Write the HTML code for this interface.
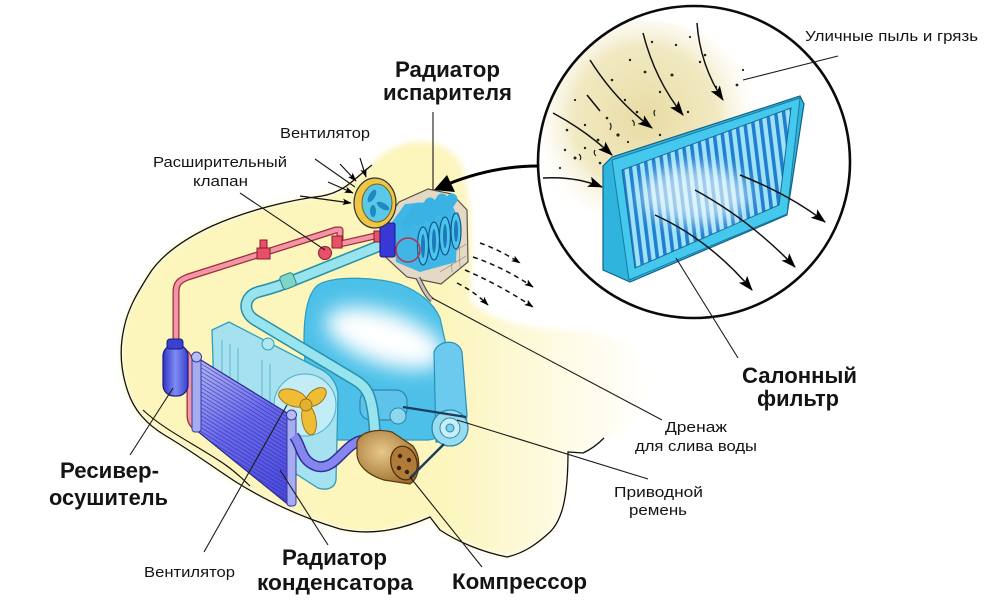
<!DOCTYPE html>
<html><head><meta charset="utf-8">
<style>
html,body{margin:0;padding:0;background:#fff;width:1000px;height:613px;overflow:hidden;}
svg{display:block;}
text{font-family:"Liberation Sans","DejaVu Sans",sans-serif;fill:#141414;}
.b{font-weight:bold;font-size:22px;}
.r{font-size:14.5px;}
</style></head><body>
<svg width="1000" height="613" viewBox="0 0 1000 613" xmlns="http://www.w3.org/2000/svg">
<defs>
 <linearGradient id="yel" gradientUnits="userSpaceOnUse" x1="440" y1="0" x2="650" y2="0">
  <stop offset="0" stop-color="#fcf5bc"/><stop offset="1" stop-color="#ffffff"/>
 </linearGradient>
 <filter id="bl3" x="-20%" y="-20%" width="140%" height="140%"><feGaussianBlur stdDeviation="3"/></filter>
 <filter id="bl8" x="-50%" y="-50%" width="200%" height="200%"><feGaussianBlur stdDeviation="8"/></filter>
 <filter id="bl10" x="-50%" y="-50%" width="200%" height="200%"><feGaussianBlur stdDeviation="10"/></filter>
 <radialGradient id="dust" gradientUnits="userSpaceOnUse" cx="645" cy="118" r="120">
  <stop offset="0" stop-color="#e8dca4"/><stop offset="0.6" stop-color="#f1e9c2"/><stop offset="1" stop-color="#ffffff" stop-opacity="0"/>
 </radialGradient>
 <linearGradient id="cond" gradientUnits="userSpaceOnUse" x1="200" y1="360" x2="292" y2="500">
  <stop offset="0" stop-color="#b4b8f2"/><stop offset="0.45" stop-color="#6a6aee"/><stop offset="1" stop-color="#4848dc"/>
 </linearGradient>
 <linearGradient id="recv" x1="0" y1="0" x2="1" y2="0">
  <stop offset="0" stop-color="#3036c8"/><stop offset="0.5" stop-color="#7f8cf2"/><stop offset="1" stop-color="#3a40d0"/>
 </linearGradient>
 <radialGradient id="comp" cx="0.4" cy="0.4" r="0.7">
  <stop offset="0" stop-color="#e6c88a"/><stop offset="1" stop-color="#9a6a2a"/>
 </radialGradient>
 <pattern id="fins" width="12" height="3.4" patternUnits="userSpaceOnUse" patternTransform="rotate(31.6)">
  <rect width="12" height="1" fill="#2b2ba0" opacity="0.55"/>
 </pattern>
 <pattern id="stripes" width="8" height="10" patternUnits="userSpaceOnUse" patternTransform="skewX(7)">
  <rect width="8" height="10" fill="#9fe2f8"/><rect width="3.6" height="10" fill="#1e7ed0"/>
 </pattern>
 <clipPath id="cc"><circle cx="694" cy="162" r="156"/></clipPath>
 <clipPath id="fin"><polygon points="622,170 791,108 779,205 635,268"/></clipPath>
 <clipPath id="engc"><path d="M318,285 C332,275 380,277 402,285 C420,292 434,304 440,318 L446,345 L448,420 C445,432 438,440 428,440 L330,440 C314,420 304,380 304,340 C304,312 308,293 318,285 Z"/></clipPath>
 <marker id="ah" viewBox="0 0 14 10" refX="13" refY="5" markerWidth="15" markerHeight="11" markerUnits="userSpaceOnUse" orient="auto">
  <path d="M0,0 L14,5 L0,10 L3,5 Z" fill="#000"/>
 </marker>
 <marker id="as" viewBox="0 0 14 10" refX="13" refY="5" markerWidth="9" markerHeight="7" markerUnits="userSpaceOnUse" orient="auto">
  <path d="M0,0 L14,5 L0,10 L3,5 Z" fill="#000"/>
 </marker>
</defs>

<!-- car body -->
<path d="M372,165 C355,178 345,192 322,196 C290,200 248,210 212,226 C182,240 160,256 148,276 C138,292 128,308 124,328 C119,350 121,372 128,392 C134,410 146,424 166,436 C190,450 210,465 236,482 C265,500 300,517 340,529 C375,537 408,527 430,517 L440,530 C458,542 482,552 507,557 C525,553 538,543 550,532 C562,520 568,498 568,452 L583,453 C592,449 598,444 604,438 C640,428 660,400 650,370 C640,340 600,332 560,330 C520,328 485,318 470,300 C474,250 472,200 462,165 C446,136 400,132 372,165 Z" fill="url(#yel)" filter="url(#bl3)"/>
<path d="M372,165 C355,178 345,192 322,196 C290,200 248,210 212,226 C182,240 160,256 148,276 C138,292 128,308 124,328 C119,350 121,372 128,392 C134,410 146,424 166,436 C190,450 210,465 236,482 C265,500 300,517 340,529 C375,537 408,527 430,517 L440,530 C458,542 482,552 507,557 C525,553 538,543 550,532 C562,520 568,498 568,452 L583,453 C592,449 598,444 604,438" fill="none" stroke="#111" stroke-width="1.3"/>
<path d="M143,410 C162,428 190,442 215,458 C230,467 240,476 250,486" fill="none" stroke="#111" stroke-width="1.1"/>

<!-- magnifier circle -->
<g clip-path="url(#cc)">
 <rect x="537" y="5" width="316" height="315" fill="#fff"/>
 <ellipse cx="640" cy="120" rx="120" ry="100" fill="url(#dust)"/>
</g>
<circle cx="694" cy="162" r="156" fill="none" stroke="#0a0a0a" stroke-width="2.6"/>
<g fill="#222">
 <circle cx="567" cy="130" r="1.3"/><circle cx="575" cy="158" r="1.5"/><circle cx="585" cy="148" r="1.2"/>
 <circle cx="598" cy="140" r="1.4"/><circle cx="607" cy="118" r="1.3"/><circle cx="618" cy="135" r="1.6"/>
 <circle cx="625" cy="100" r="1.2"/><circle cx="637" cy="112" r="1.3"/><circle cx="645" cy="72" r="1.4"/>
 <circle cx="660" cy="92" r="1.2"/><circle cx="672" cy="75" r="1.5"/><circle cx="676" cy="45" r="1.2"/>
 <circle cx="700" cy="62" r="1.2"/><circle cx="705" cy="55" r="1.3"/><circle cx="716" cy="87" r="1.2"/>
 <circle cx="737" cy="85" r="1.4"/><circle cx="743" cy="70" r="1.1"/><circle cx="630" cy="60" r="1.2"/>
 <circle cx="612" cy="80" r="1.3"/><circle cx="660" cy="135" r="1.2"/><circle cx="640" cy="150" r="1.3"/>
 <circle cx="575" cy="100" r="1.1"/><circle cx="565" cy="150" r="1.2"/><circle cx="690" cy="37" r="1.1"/>
 <circle cx="652" cy="42" r="1.2"/><circle cx="600" cy="163" r="1.3"/><circle cx="560" cy="168" r="1.1"/>
 <circle cx="585" cy="125" r="1.2"/><circle cx="628" cy="142" r="1.1"/><circle cx="688" cy="112" r="1.2"/>
</g>
<g fill="none" stroke="#222" stroke-width="1.2">
 <path d="M610,130 q2,-4 0,-7"/><path d="M595,150 q-2,3 1,6"/><path d="M632,120 q3,2 2,6"/>
 <path d="M580,160 q2,-3 -1,-6"/><path d="M655,110 q-2,3 0,6"/>
</g>
<g fill="none" stroke="#111" stroke-width="1.5">
 <path d="M543,178 Q575,176 602,187" marker-end="url(#ah)"/>
 <path d="M553,113 Q585,130 612,155" marker-end="url(#ah)"/>
 <path d="M590,60 Q615,100 652,128" marker-end="url(#ah)"/>
 <path d="M643,33 Q655,80 683,115" marker-end="url(#ah)"/>
 <path d="M697,23 Q700,65 723,100" marker-end="url(#ah)"/>
 <path d="M587,95 L600,111"/>
</g>
<!-- cabin filter -->
<polygon points="603,166 612,157 800,96 804,104 787,215 630,282 603,270" fill="#2fb4de" stroke="#14628a" stroke-width="1.2"/>
<polygon points="612,160 800,98 787,214 629,280" fill="#44c8ee" stroke="#1b7aa0" stroke-width="1"/>
<polygon points="622,170 791,108 779,205 635,268" fill="url(#stripes)" stroke="#1a6a95" stroke-width="1"/>
<g clip-path="url(#fin)"><ellipse cx="695" cy="195" rx="55" ry="30" fill="#fff" opacity="0.6" filter="url(#bl8)"/></g>
<g fill="none" stroke="#111" stroke-width="1.5">
 <path d="M655,215 Q710,240 752,290" marker-end="url(#ah)"/>
 <path d="M695,190 Q750,220 795,267" marker-end="url(#ah)"/>
 <path d="M740,175 Q790,195 825,222" marker-end="url(#ah)"/>
</g>

<!-- engine block -->
<path d="M318,285 C332,275 380,277 402,285 C420,292 434,304 440,318 L446,345 L448,420 C445,432 438,440 428,440 L330,440 C314,420 304,380 304,340 C304,312 308,293 318,285 Z" fill="#4cc0e8"/>
<g clip-path="url(#engc)"><ellipse cx="385" cy="338" rx="62" ry="26" transform="rotate(18 385 338)" fill="#fff" filter="url(#bl10)"/></g>
<path d="M318,285 C332,275 380,277 402,285 C420,292 434,304 440,318 L446,345 L448,420 C445,432 438,440 428,440 L330,440 C314,420 304,380 304,340 C304,312 308,293 318,285 Z" fill="none" stroke="#2a9cc0" stroke-width="1.2"/>
<path d="M434,352 C438,340 458,338 462,352 L467,415 C466,432 458,442 448,442 L436,442 Z" fill="#6ccaee" stroke="#2790b8" stroke-width="1.2"/>

<!-- radiator -->
<path d="M212,330 L229,322 L318,368 C331,373 338,385 338,396 L336,480 C335,488 327,491 318,488 L215,422 Z" fill="#a6e1ef" stroke="#2f9fbc" stroke-width="1.3"/>
<g stroke="#4aaecb" stroke-width="0.8">
 <line x1="222" y1="340" x2="222" y2="395"/><line x1="230" y1="344" x2="230" y2="400"/><line x1="238" y1="348" x2="238" y2="404"/>
 <line x1="262" y1="360" x2="262" y2="420"/><line x1="270" y1="364" x2="270" y2="425"/>
</g>
<circle cx="268" cy="344" r="6" fill="#b0e6f2" stroke="#2f9fbc"/>
<circle cx="305" cy="405" r="31" fill="#c2ecf6" stroke="#4ab0cc" stroke-width="1"/>
<!-- fan -->
<g fill="#efbd35" stroke="#9a6e10" stroke-width="0.9">
 <ellipse cx="293" cy="398" rx="15" ry="8" transform="rotate(20 293 398)"/>
 <ellipse cx="309" cy="420" rx="7" ry="15" transform="rotate(-10 309 420)"/>
 <ellipse cx="316" cy="397" rx="12" ry="7" transform="rotate(-40 316 397)"/>
 <circle cx="306" cy="405" r="6" fill="#e4b030"/>
</g>

<!-- compressor mount + pulley -->
<rect x="360" y="390" width="47" height="30" rx="11" fill="#5ec2ea" stroke="#2a8ab0" stroke-width="1.2"/>
<circle cx="398" cy="416" r="8" fill="#8ed6ee" stroke="#2a8ab0"/>
<circle cx="450" cy="428" r="18" fill="#9adcef" stroke="#2a8ab0" stroke-width="1.3"/>
<circle cx="450" cy="428" r="10" fill="#c8eef8" stroke="#2a8ab0"/>
<circle cx="450" cy="428" r="4" fill="#7ccfec" stroke="#2a8ab0"/>

<!-- low pressure pipe (cyan) -->
<path d="M384,244 L297,279 C285,284 270,289 258,292 C244,296 242,312 255,320 L355,380 C368,388 373,396 375,436" fill="none" stroke="#2890a8" stroke-width="12" stroke-linejoin="round"/>
<path d="M384,244 L297,279 C285,284 270,289 258,292 C244,296 242,312 255,320 L355,380 C368,388 373,396 375,436" fill="none" stroke="#98e4ee" stroke-width="9" stroke-linejoin="round"/>
<rect x="281" y="274" width="14" height="14" rx="3" fill="#7fd6c8" stroke="#2a8a8a" transform="rotate(-22 288 281)"/>

<!-- receiver + red pipes -->
<path d="M176,346 L176,292 C176,283 180,280 188,277 L336,230 L340,230 L340,244 L384,234 L462,217" fill="none" stroke="#a02a3c" stroke-width="7" stroke-linejoin="round"/>
<path d="M176,346 L176,292 C176,283 180,280 188,277 L336,230 L340,230 L340,244 L384,234 L462,217" fill="none" stroke="#f097a6" stroke-width="4.5" stroke-linejoin="round"/>
<path d="M184,352 C190,356 190,362 190,370 L190,415 C190,422 193,426 198,428" fill="none" stroke="#a02a3c" stroke-width="7"/>
<path d="M184,352 C190,356 190,362 190,370 L190,415 C190,422 193,426 198,428" fill="none" stroke="#f097a6" stroke-width="4.5"/>
<rect x="257" y="248" width="13" height="11" fill="#e8506a" stroke="#8a1a2a"/>
<rect x="260" y="240" width="7" height="8" fill="#e8506a" stroke="#8a1a2a"/>
<circle cx="325" cy="253" r="6.5" fill="#e8506a" stroke="#8a1a2a"/>
<rect x="332" y="236" width="10" height="12" fill="#e8506a" stroke="#8a1a2a"/>
<rect x="374" y="231" width="9" height="11" fill="#e8506a" stroke="#8a1a2a"/>
<rect x="163" y="345" width="25" height="51" rx="11" fill="url(#recv)" stroke="#1a1a80" stroke-width="1.2"/>
<rect x="167" y="339" width="16" height="10" rx="3" fill="#3a40d0" stroke="#1a1a80"/>

<!-- condenser -->
<polygon points="196,357 292,416 290,506 196,430" fill="url(#cond)" stroke="#2a2a90" stroke-width="1.2"/>
<polygon points="196,357 292,416 290,506 196,430" fill="url(#fins)"/>
<rect x="192" y="358" width="9" height="74" rx="3" fill="#a6acf0" stroke="#3a3aa0"/>
<circle cx="196.5" cy="357" r="5" fill="#b6bcf4" stroke="#3a3aa0"/>
<rect x="287" y="416" width="9" height="90" rx="3" fill="#a6acf0" stroke="#3a3aa0"/>
<circle cx="291.5" cy="415" r="5" fill="#b6bcf4" stroke="#3a3aa0"/>

<!-- purple hose -->
<path d="M294,436 C302,446 300,460 316,466 C336,472 344,442 364,440" fill="none" stroke="#2e2e9a" stroke-width="11"/>
<path d="M294,436 C302,446 300,460 316,466 C336,472 344,442 364,440" fill="none" stroke="#8686ee" stroke-width="8"/>

<!-- compressor -->
<path d="M357,442 C360,432 376,428 392,432 L413,446 C422,458 420,478 410,484 L384,480 C368,475 358,466 357,455 Z" fill="url(#comp)" stroke="#5a3810" stroke-width="1.2"/>
<ellipse cx="404" cy="463" rx="13" ry="17" transform="rotate(-15 404 463)" fill="#b07a38" stroke="#4a2a08" stroke-width="1.2"/>
<g fill="#3a2008"><circle cx="400" cy="456" r="2.2"/><circle cx="409" cy="460" r="2.2"/><circle cx="399" cy="468" r="2.2"/><circle cx="407" cy="472" r="2.2"/></g>
<g stroke="#1c3c60" stroke-width="2.4" fill="none">
 <line x1="403" y1="407" x2="466" y2="417"/>
 <line x1="410" y1="478" x2="444" y2="444"/>
</g>

<!-- evaporator -->
<polygon points="380,228 399,202 428,189 452,194 467,210 468,262 441,284 407,277 380,252" fill="#e3d9c4" stroke="#5a5248" stroke-width="1.2"/>
<g stroke="#8a8478" stroke-width="0.6">
 <line x1="450" y1="214" x2="452" y2="272"/><line x1="458" y1="212" x2="460" y2="267"/>
 <line x1="440" y1="262" x2="466" y2="244"/><line x1="440" y1="272" x2="466" y2="256"/>
</g>
<path d="M392,222 L405,204 L450,200 L458,218 L456,262 L420,272 L396,262 Z" fill="#3fb6e6"/>
<g fill="none" stroke="#3ab2e4" stroke-width="11" stroke-linecap="round">
 <line x1="407" y1="224" x2="418" y2="208"/><line x1="419" y1="220" x2="430" y2="203"/>
 <line x1="431" y1="216" x2="442" y2="199"/><line x1="443" y1="212" x2="452" y2="199"/>
</g>
<g fill="#4cc4ec" stroke="#0c5a92" stroke-width="1.2">
 <ellipse cx="423" cy="246" rx="5.5" ry="19"/><ellipse cx="434" cy="241" rx="5.5" ry="19"/>
 <ellipse cx="445" cy="236" rx="5.5" ry="19"/><ellipse cx="456" cy="231" rx="5" ry="18"/>
</g>
<g fill="#1c7ab8"><ellipse cx="423" cy="246" rx="2" ry="12"/><ellipse cx="434" cy="241" rx="2" ry="12"/><ellipse cx="445" cy="236" rx="2" ry="12"/><ellipse cx="456" cy="231" rx="2" ry="11"/></g>
<rect x="380" y="223" width="15" height="34" rx="2" fill="#3838d6" stroke="#1a1a80"/>
<circle cx="408" cy="250" r="12" fill="none" stroke="#c03048" stroke-width="1.5"/>
<path d="M418,278 C424,290 427,296 432,300" fill="none" stroke="#444" stroke-width="5"/>
<path d="M418,278 C424,290 427,296 432,300" fill="none" stroke="#c8c4bc" stroke-width="3"/>
<!-- evap fan -->
<ellipse cx="375" cy="203" rx="21" ry="25" fill="#eec545" stroke="#333" stroke-width="1.2"/>
<ellipse cx="377" cy="203" rx="15" ry="19" fill="#5ac8e8" stroke="#7a6010"/>
<g fill="#1e8ac0"><ellipse cx="372" cy="196" rx="3" ry="7" transform="rotate(30 372 196)"/><ellipse cx="383" cy="206" rx="3" ry="7" transform="rotate(-60 383 206)"/><ellipse cx="373" cy="211" rx="3" ry="6"/></g>

<!-- air arrows into evap fan -->
<g fill="none" stroke="#111" stroke-width="1.2">
 <path d="M300,196 L351,203" marker-end="url(#as)"/>
 <path d="M328,182 L353,193" marker-end="url(#as)"/>
 <path d="M340,164 L356,181" marker-end="url(#as)"/>
 <path d="M360,158 L366,177" marker-end="url(#as)"/>
</g>
<!-- dashed air out -->
<g fill="none" stroke="#111" stroke-width="1.5" stroke-dasharray="5 4">
 <path d="M480,243 Q500,250 520,263" marker-end="url(#as)"/>
 <path d="M473,257 Q505,268 533,287" marker-end="url(#as)"/>
 <path d="M465,270 Q500,285 533,307" marker-end="url(#as)"/>
 <path d="M457,283 Q475,292 488,305" marker-end="url(#as)"/>
</g>
<!-- big arrow from circle -->
<path d="M538,166 C508,166 478,172 448,184" fill="none" stroke="#000" stroke-width="3"/>
<polygon points="434,190 447,175 455,192" fill="#000"/>

<!-- leader lines -->
<g stroke="#1a1a1a" stroke-width="1.1" fill="none">
 <line x1="838" y1="56" x2="743" y2="80"/>
 <line x1="433" y1="112" x2="433" y2="190"/>
 <line x1="315" y1="159" x2="355" y2="187"/>
 <line x1="240" y1="193" x2="325" y2="250"/>
 <line x1="130" y1="455" x2="173" y2="388"/>
 <line x1="204" y1="552" x2="287" y2="405"/>
 <line x1="328" y1="545" x2="280" y2="470"/>
 <line x1="482" y1="567" x2="410" y2="477"/>
 <line x1="662" y1="420" x2="432" y2="298"/>
 <line x1="648" y1="479" x2="457" y2="420"/>
 <line x1="738" y1="358" x2="676" y2="258"/>
</g>

<!-- labels -->
<text class="r" x="805" y="41" textLength="173" lengthAdjust="spacingAndGlyphs">Уличные пыль и грязь</text>
<text class="b" x="395" y="77" textLength="105" lengthAdjust="spacingAndGlyphs">Радиатор</text>
<text class="b" x="383" y="100" textLength="129" lengthAdjust="spacingAndGlyphs">испарителя</text>
<text class="r" x="280" y="138" textLength="90" lengthAdjust="spacingAndGlyphs">Вентилятор</text>
<text class="r" x="153" y="167" textLength="134" lengthAdjust="spacingAndGlyphs">Расширительный</text>
<text class="r" x="193" y="186" textLength="55" lengthAdjust="spacingAndGlyphs">клапан</text>
<text class="b" x="60" y="478" textLength="99" lengthAdjust="spacingAndGlyphs">Ресивер-</text>
<text class="b" x="49" y="505" textLength="119" lengthAdjust="spacingAndGlyphs">осушитель</text>
<text class="r" x="144" y="577" textLength="91" lengthAdjust="spacingAndGlyphs">Вентилятор</text>
<text class="b" x="282" y="565" textLength="105" lengthAdjust="spacingAndGlyphs">Радиатор</text>
<text class="b" x="257" y="590" textLength="156" lengthAdjust="spacingAndGlyphs">конденсатора</text>
<text class="b" x="452" y="589" textLength="135" lengthAdjust="spacingAndGlyphs">Компрессор</text>
<text class="r" x="665" y="432" textLength="62" lengthAdjust="spacingAndGlyphs">Дренаж</text>
<text class="r" x="635" y="451" textLength="122" lengthAdjust="spacingAndGlyphs">для слива воды</text>
<text class="r" x="614" y="497" textLength="89" lengthAdjust="spacingAndGlyphs">Приводной</text>
<text class="r" x="629" y="515" textLength="58" lengthAdjust="spacingAndGlyphs">ремень</text>
<text class="b" x="742" y="383" textLength="115" lengthAdjust="spacingAndGlyphs">Салонный</text>
<text class="b" x="757" y="406" textLength="82" lengthAdjust="spacingAndGlyphs">фильтр</text>
</svg>
</body></html>
